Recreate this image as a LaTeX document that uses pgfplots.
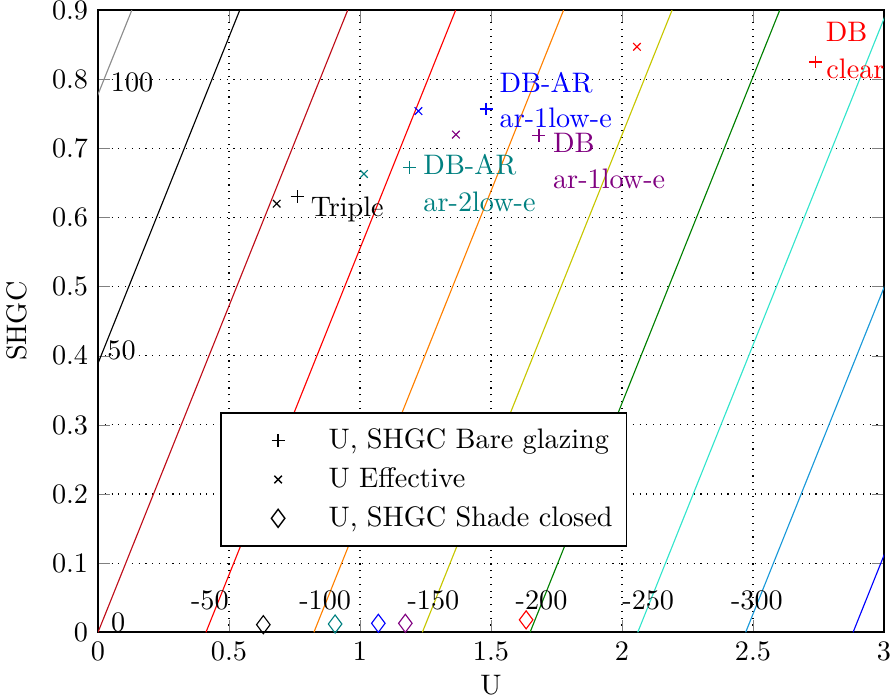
\documentclass[border=0pt]{standalone}
\usepackage{pgfplots}
\pgfplotsset{compat=1.18}
\definecolor{cgray}{rgb}{0.55,0.55,0.55}
\definecolor{cdred}{rgb}{0.75,0.05,0.1}
\definecolor{cred}{rgb}{1,0,0}
\definecolor{corange}{rgb}{1,0.5,0}
\definecolor{colive}{rgb}{0.78,0.78,0}
\definecolor{cgreen}{rgb}{0,0.5,0}
\definecolor{cturq}{rgb}{0.2,0.9,0.8}
\definecolor{csky}{rgb}{0.1,0.6,0.85}
\definecolor{cblue}{rgb}{0,0,1}
\definecolor{mteal}{rgb}{0,0.5,0.5}
\definecolor{mpurple}{rgb}{0.5,0,0.5}
\begin{document}
\begin{tikzpicture}
\begin{axis}[
  name=ax,
  scale only axis, width=278.7pt, height=220.6pt,
  xmin=0, xmax=3, ymin=0, ymax=0.9,
  xtick={0,0.5,...,3}, ytick={0,0.1,...,0.9},
  yticklabel style={/pgf/number format/fixed},
  tick pos=both, tick align=inside,
  grid=major, major grid style={dotted, black, line width=0.4pt},
  axis line style={line width=0.7pt},
  xlabel={U}, ylabel={SHGC},
  xlabel style={yshift=1.5pt}, ylabel style={yshift=2pt},
  clip mode=individual,
  legend style={at={(axis cs:0.466,0.318)}, anchor=north west, draw=black, line width=0.5pt, row sep=1.2pt, inner xsep=3pt, inner ysep=3.5pt, font=\normalsize},
  legend cell align=left,
  legend image code/.code={\path (0cm,0cm) (1.15cm,0cm); \draw[#1] plot coordinates {(0.6cm,0cm)};},
]
% iso-lines SHGC = 0.944*(U - U0)
\addplot[cgray, line width=0.4pt, forget plot] coordinates {(-0.824,0) (0.129,0.9)};
\addplot[black, line width=0.4pt, forget plot] coordinates {(-0.412,0) (0.541,0.9)};
\addplot[cdred, line width=0.4pt, forget plot] coordinates {(0,0) (0.953,0.9)};
\addplot[cred, line width=0.4pt, forget plot] coordinates {(0.412,0) (1.365,0.9)};
\addplot[corange, line width=0.4pt, forget plot] coordinates {(0.824,0) (1.777,0.9)};
\addplot[colive, line width=0.4pt, forget plot] coordinates {(1.238,0) (2.191,0.9)};
\addplot[cgreen, line width=0.4pt, forget plot] coordinates {(1.649,0) (2.602,0.9)};
\addplot[cturq, line width=0.4pt, forget plot] coordinates {(2.060,0) (3.013,0.9)};
\addplot[csky, line width=0.4pt, forget plot] coordinates {(2.472,0) (3.425,0.9)};
\addplot[cblue, line width=0.4pt, forget plot] coordinates {(2.882,0) (3.835,0.9)};
% bare glazing
\addplot[only marks, mark=+, mark size=2.3pt, black, forget plot] coordinates {(0.76,0.630)};
\addplot[only marks, mark=+, mark size=2.3pt, mteal, forget plot] coordinates {(1.19,0.673)};
\addplot[only marks, mark=+, mark size=2.3pt, cblue, forget plot] coordinates {(1.481,0.757)};
\addplot[only marks, mark=+, mark size=2.3pt, mpurple, forget plot] coordinates {(1.683,0.719)};
\addplot[only marks, mark=+, mark size=2.3pt, cred, forget plot] coordinates {(2.74,0.825)};
% U effective
\addplot[only marks, mark=x, mark size=1.9pt, black, forget plot] coordinates {(0.682,0.620)};
\addplot[only marks, mark=x, mark size=1.9pt, mteal, forget plot] coordinates {(1.015,0.663)};
\addplot[only marks, mark=x, mark size=1.9pt, cblue, forget plot] coordinates {(1.223,0.754)};
\addplot[only marks, mark=x, mark size=1.9pt, mpurple, forget plot] coordinates {(1.366,0.720)};
\addplot[only marks, mark=x, mark size=1.9pt, cred, forget plot] coordinates {(2.057,0.847)};
% shade closed
\addplot[only marks, mark=diamond, mark size=3.2pt, black, forget plot] coordinates {(0.631,0.011)};
\addplot[only marks, mark=diamond, mark size=3.2pt, mteal, forget plot] coordinates {(0.905,0.012)};
\addplot[only marks, mark=diamond, mark size=3.2pt, cblue, forget plot] coordinates {(1.07,0.013)};
\addplot[only marks, mark=diamond, mark size=3.2pt, mpurple, forget plot] coordinates {(1.173,0.013)};
\addplot[only marks, mark=diamond, mark size=3.2pt, cred, forget plot] coordinates {(1.634,0.018)};
% legend
\addlegendimage{only marks, mark=+, mark size=2.3pt, black}
\addlegendentry{U, SHGC Bare glazing}
\addlegendimage{only marks, mark=x, mark size=1.9pt, black}
\addlegendentry{U Effective}
\addlegendimage{only marks, mark=diamond, mark size=3.2pt, black}
\addlegendentry{U, SHGC Shade closed}
% iso-line labels
\node at (axis cs:0.13,0.796) {100};
\node at (axis cs:0.09,0.408) {50};
\node at (axis cs:0.077,0.015) {0};
\node at (axis cs:0.427,0.046) {-50};
\node at (axis cs:0.867,0.046) {-100};
\node at (axis cs:1.28,0.046) {-150};
\node at (axis cs:1.693,0.046) {-200};
\node at (axis cs:2.10,0.046) {-250};
\node at (axis cs:2.515,0.046) {-300};
% point labels
\node[anchor=west, inner sep=0pt, black] at (axis cs:0.81,0.612) {Triple};
\node[anchor=west, inner sep=0pt, mteal] at (axis cs:1.24,0.676) {DB-AR};
\node[anchor=west, inner sep=0pt, mteal] at (axis cs:1.24,0.622) {ar-2low-e};
\node[anchor=west, inner sep=0pt, cblue] at (axis cs:1.531,0.795) {DB-AR};
\node[anchor=west, inner sep=0pt, cblue] at (axis cs:1.531,0.744) {ar-1low-e};
\node[anchor=west, inner sep=0pt, mpurple] at (axis cs:1.735,0.708) {DB};
\node[anchor=west, inner sep=0pt, mpurple] at (axis cs:1.735,0.656) {ar-1low-e};
\node[inner sep=0pt, cred] at (axis cs:2.857,0.868) {DB};
\node[anchor=west, inner sep=0pt, cred] at (axis cs:2.778,0.815) {clear};
\end{axis}
\pgfresetboundingbox
\useasboundingbox ([shift={(-34.75pt,-23.4pt)}]ax.south west) rectangle ([shift={(2.84pt,3.6pt)}]ax.north east);
\end{tikzpicture}
\end{document}
